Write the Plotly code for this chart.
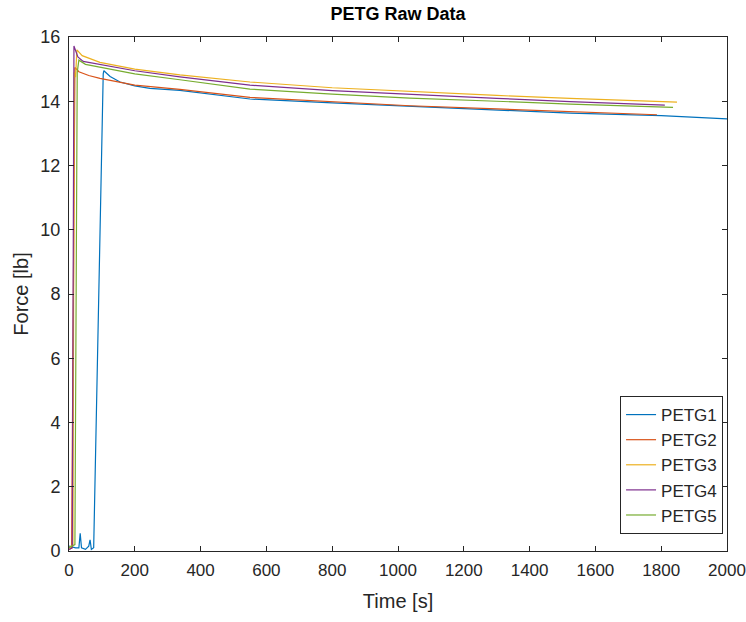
import plotly.graph_objects as go

# PETG1 (blue)
t1 = [0, 10, 20, 30, 34, 38, 50, 60, 64, 68, 75, 104, 106, 125, 155, 200, 246, 337, 550, 800, 1036, 1300, 1523, 1800, 2000]
f1 = [0.15, 0.12, 0.10, 0.10, 0.55, 0.10, 0.05, 0.15, 0.35, 0.05, 0.10, 14.85, 14.95, 14.77, 14.60, 14.48, 14.40, 14.34, 14.07, 13.95, 13.84, 13.74, 13.63, 13.55, 13.45]
# PETG2 (orange)
t2 = [0, 8, 18, 30, 60, 94, 200, 337, 550, 800, 1036, 1300, 1523, 1787]
f2 = [0.05, 0.10, 15.05, 14.92, 14.80, 14.71, 14.50, 14.37, 14.12, 13.98, 13.86, 13.76, 13.68, 13.58]
# PETG3 (yellow)
t3 = [0, 12, 16, 20, 24, 40, 94, 200, 337, 550, 800, 1036, 1300, 1523, 1848]
f3 = [0.10, 0.20, 14.90, 14.75, 15.60, 15.42, 15.21, 15.00, 14.82, 14.60, 14.42, 14.30, 14.18, 14.09, 13.97]
# PETG4 (purple)
t4 = [0, 10, 15, 27, 43, 94, 200, 337, 550, 800, 1036, 1300, 1523, 1811]
f4 = [0.05, 0.10, 15.72, 15.38, 15.24, 15.14, 14.95, 14.76, 14.50, 14.33, 14.21, 14.09, 13.99, 13.88]
# PETG5 (green)
t5 = [0, 18, 25, 30, 50, 94, 200, 337, 550, 800, 1036, 1300, 1523, 1836]
f5 = [0.10, 0.20, 14.90, 15.28, 15.15, 15.06, 14.85, 14.67, 14.38, 14.22, 14.10, 14.00, 13.91, 13.81]

names = ["PETG1", "PETG2", "PETG3", "PETG4", "PETG5"]
colors = ["#0072BD", "#D95319", "#EDB120", "#7E2F8E", "#77AC30"]
series = [(t1, f1), (t2, f2), (t3, f3), (t4, f4), (t5, f5)]

x_ticks = list(range(0, 2001, 200))
y_ticks = list(range(0, 17, 2))

FONT = "Liberation Sans, Arial, Helvetica"

fig = go.Figure()
for (t, f), n, c in zip(series, names, colors):
    fig.add_trace(go.Scatter(x=t, y=f, mode="lines", name=n,
                             line=dict(color=c, width=1.2)))

axis_common = dict(
    showgrid=False, zeroline=False, showline=True, linecolor="#262626",
    linewidth=1, mirror="ticks", ticks="inside", ticklen=5, tickcolor="#262626",
    automargin=False,
)

fig.update_layout(
    width=746, height=622,
    margin=dict(l=69, r=19, t=37, b=71),
    paper_bgcolor="white", plot_bgcolor="white",
    title=dict(text="<b>PETG Raw Data</b>", x=(69 + 727) / 2 / 746, xanchor="center",
               y=1 - 14 / 622, yanchor="middle",
               font=dict(family=FONT, size=18, color="#000000")),
    xaxis=dict(range=[0, 2000], tickvals=x_ticks, ticklabelstandoff=4,
               tickfont=dict(family=FONT, size=17, color="#262626"),
               title=dict(text="Time [s]", standoff=14,
                          font=dict(family=FONT, size=20, color="#262626")),
               **axis_common),
    yaxis=dict(range=[0, 16], tickvals=y_ticks, ticklabelstandoff=4,
               tickfont=dict(family=FONT, size=18, color="#262626"),
               title=dict(text="Force [lb]", standoff=6,
                          font=dict(family=FONT, size=20, color="#262626")),
               **axis_common),
    legend=dict(x=0.994, y=0.033, xanchor="right", yanchor="bottom",
                bgcolor="white", bordercolor="#262626", borderwidth=1,
                font=dict(family=FONT, size=17, color="#262626"),
                tracegroupgap=0),
    showlegend=True,
)

fig.write_html("out.html")
